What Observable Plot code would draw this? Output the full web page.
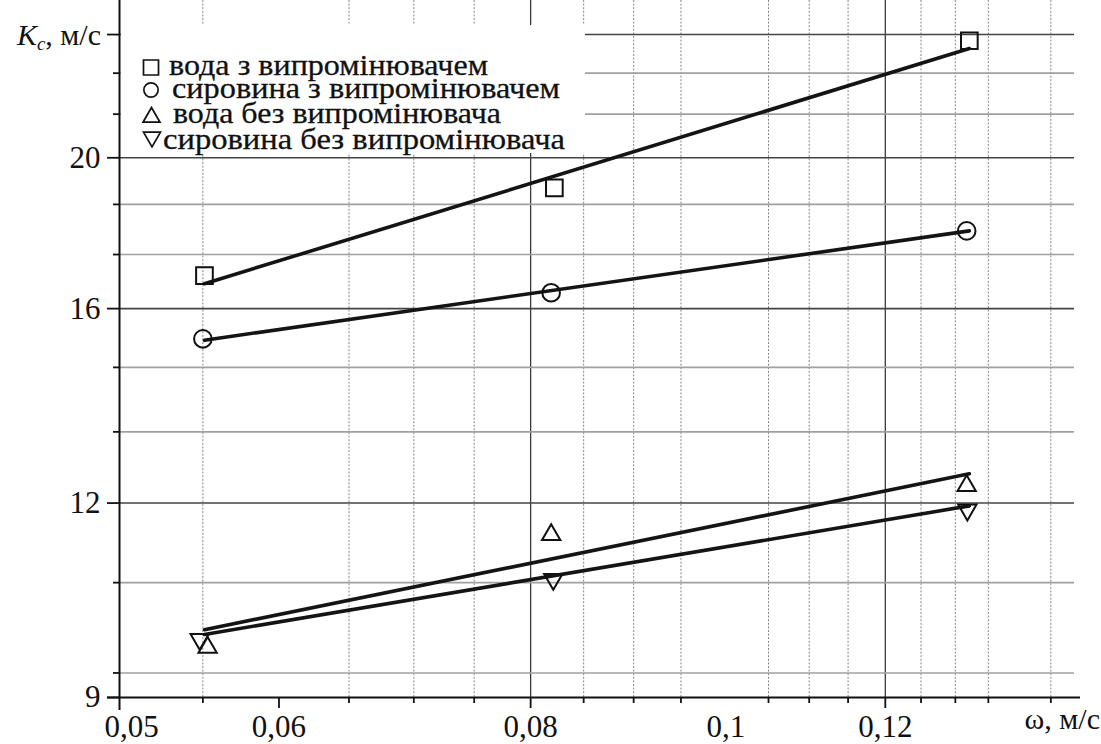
<!DOCTYPE html>
<html><head><meta charset="utf-8">
<script src="https://cdn.jsdelivr.net/npm/d3@7"></script>
<script src="https://cdn.jsdelivr.net/npm/@observablehq/plot@0.6"></script>
<style>
html,body{margin:0;padding:0;background:#fff;}
#chart{position:relative;width:1101px;height:744px;overflow:hidden;}
</style>
</head><body><div id="chart"></div>
<script>
// ---- data ----
const seriesNames = ["вода з випромінювачем", "сировина з випромінювачем", "вода без випромінювача", "сировина без випромінювача"];
const waterWithX = [0.0551, 0.0822, 0.1321];
const waterWithY = [16.8, 19.13, 23.78];
const rawWithX = [0.0550, 0.0819, 0.1317];
const rawWithY = [15.30, 16.38, 17.95];
const waterWithoutX = [0.0553, 0.0819, 0.1317];
const waterWithoutY = [9.69, 11.45, 12.31];
const rawWithoutX = [0.0548, 0.0821, 0.1318];
const rawWithoutY = [9.81, 10.72, 11.88];
// trend lines (end values)
const fitX = [0.0551, 0.1321];
const fitWaterWith = [16.60, 23.51];
const fitRawWith = [15.27, 17.95];
const fitWaterWithout = [9.95, 12.53];
const fitRawWithout = [9.88, 11.95];
// ticks
const xTickValues = [0.05, 0.06, 0.08, 0.1, 0.12];
const xTickLabels = ["0,05", "0,06", "0,08", "0,1", "0,12"];
const xMinorTicks = [0.055, 0.065, 0.07, 0.075, 0.085, 0.09, 0.095, 0.105, 0.11, 0.115, 0.125, 0.13, 0.135, 0.145];
const xMajorTicks = [0.06, 0.08, 0.12];
const xMajorGrid = [0.08, 0.12];
const yTickValues = [9, 12, 16, 20];
const yTickLabels = ["9", "12", "16", "20"];
const yMajorTicks = [9, 12, 16, 20, 24];
const yMajorGrid = [12, 16, 20, 24];
const yMinorGrid = [9.333, 10.667, 13.333, 14.667, 17.333, 18.667, 21.333, 22.667];
const yAxisLabel = ["K", "c", ", м/с"];
const xAxisLabel = "ω, м/с";

// ---- tables ----
const pts = (xs, ys) => xs.map((x, i) => ({x, y: ys[i]}));
const fits = [fitWaterWith, fitRawWith, fitWaterWithout, fitRawWithout];
const fitTable = fits.flatMap((ys, s) => fitX.map((x, i) => ({x, y: ys[i], s})));

const font = "'Liberation Serif', 'Times New Roman', serif";
const ink = "#111";

const plot = Plot.plot({
  width: 1101, height: 744,
  marginLeft: 119, marginRight: 21, marginTop: 0, marginBottom: 47,
  x: {type: "log", domain: [0.05, 0.15], label: null},
  y: {type: "log", domain: [9, 25.24], label: null},
  style: {fontFamily: font, fontSize: "31px", background: "#fff", color: ink, overflow: "visible"},
  marks: [
    Plot.ruleX(xMinorTicks, {stroke: "#858585", strokeWidth: 1, strokeDasharray: "2,1.6"}),
    Plot.ruleX(xMajorGrid, {stroke: "#3a3a3a", strokeWidth: 1.3}),
    Plot.ruleY(yMinorGrid, {stroke: "#a0a0a0", strokeWidth: 1.6, insetRight: 6}),
    Plot.ruleY(yMajorGrid, {stroke: "#444", strokeWidth: 1.6, insetRight: 6}),
    Plot.ruleY([9], {stroke: ink, strokeWidth: 2, insetLeft: -12}),
    Plot.ruleX([0.05], {stroke: ink, strokeWidth: 2, insetBottom: -13}),
    Plot.axisX({ticks: xMinorTicks, tickSize: 6, tickFormat: () => "", strokeWidth: 1.8, stroke: ink, label: null}),
    Plot.axisX({ticks: xMajorTicks, tickSize: 11, tickFormat: () => "", strokeWidth: 1.8, stroke: ink, label: null}),
    Plot.axisX({ticks: xTickValues.slice(1), tickSize: 0, tickPadding: 17, fontSize: 31, fill: ink, label: null,
      tickFormat: d => xTickLabels[xTickValues.indexOf(d)]}),
    Plot.axisX({ticks: xTickValues.slice(0, 1), tickSize: 0, tickPadding: 17, dx: 12, fontSize: 31, fill: ink, label: null,
      tickFormat: d => xTickLabels[xTickValues.indexOf(d)]}),
    Plot.axisY({ticks: yMinorGrid, tickSize: 6, tickFormat: () => "", strokeWidth: 1.8, stroke: ink, label: null}),
    Plot.axisY({ticks: yMajorTicks, tickSize: 12, tickFormat: () => "", strokeWidth: 1.8, stroke: ink, label: null}),
    Plot.axisY({ticks: yTickValues, tickSize: 0, tickPadding: 19, fontSize: 31, fill: ink, label: null,
      tickFormat: d => yTickLabels[yTickValues.indexOf(d)]}),
    Plot.line(fitTable, {x: "x", y: "y", z: "s", stroke: "#141414", strokeWidth: 3.6}),
    Plot.dot(pts(waterWithX, waterWithY), {x: "x", y: "y", symbol: "square", r: 9.4, stroke: ink, strokeWidth: 2, fill: "none"}),
    Plot.dot(pts(rawWithX, rawWithY), {x: "x", y: "y", symbol: "circle", r: 8.8, stroke: ink, strokeWidth: 2, fill: "none"}),
    Plot.dot(pts(waterWithoutX, waterWithoutY), {x: "x", y: "y", symbol: "triangle", r: 6.8, stroke: ink, strokeWidth: 2, fill: "none"}),
    Plot.dot(pts(rawWithoutX, rawWithoutY), {x: "x", y: "y", symbol: "triangle", r: 6.8, rotate: 180, stroke: ink, strokeWidth: 2, fill: "none"})
  ]
});

document.getElementById("chart").appendChild(plot);

// ---- legend and axis titles ----
const svg = d3.select(plot);
const lg = svg.append("g").attr("text-anchor", "start");
lg.append("rect").attr("x", 121).attr("y", 25).attr("width", 464).attr("height", 128).attr("fill", "#fff");
const legendSym = [d3.symbolSquare, d3.symbolCircle, d3.symbolTriangle, d3.symbolTriangle];
const legendSize = [225, 160, 125, 125];
const legendSymPos = [[151, 67.5], [151, 90], [151.5, 117.3], [152, 137]];
const legendRot = [0, 0, 0, 180];
const legendTextX = [169, 172, 173, 163];
const legendTextW = [319, 388, 328, 402];
const legendBase = [75, 98, 123, 149];
seriesNames.forEach((name, i) => {
  lg.append("path")
    .attr("d", d3.symbol(legendSym[i], legendSize[i])())
    .attr("transform", `translate(${legendSymPos[i][0]},${legendSymPos[i][1]}) rotate(${legendRot[i]})`)
    .attr("fill", "none").attr("stroke", ink).attr("stroke-width", 1.7);
  lg.append("text").attr("x", legendTextX[i]).attr("y", legendBase[i]).attr("text-anchor", "start")
    .attr("textLength", legendTextW[i]).attr("lengthAdjust", "spacingAndGlyphs")
    .attr("font-family", font).attr("font-size", 30).attr("fill", ink)
    .attr("stroke", ink).attr("stroke-width", 0.3).text(name);
});

const yl = svg.append("text").attr("x", 101).attr("y", 45).attr("text-anchor", "end")
  .attr("font-family", font).attr("font-size", 30).attr("fill", ink);
yl.append("tspan").attr("font-style", "italic").text(yAxisLabel[0]);
yl.append("tspan").attr("font-style", "italic").attr("font-size", 19).attr("dy", 5).text(yAxisLabel[1]);
yl.append("tspan").attr("dy", -5).text(yAxisLabel[2]);

svg.append("text").attr("x", 1100).attr("y", 729).attr("text-anchor", "end")
  .attr("font-family", font).attr("font-size", 30).attr("fill", ink).text(xAxisLabel);
</script>
</body></html>
